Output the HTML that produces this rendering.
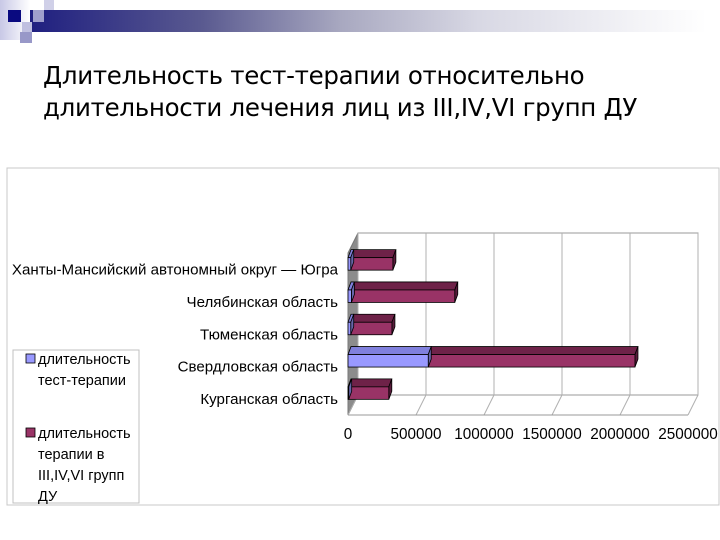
<!DOCTYPE html>
<html><head><meta charset="utf-8">
<style>
body{margin:0;width:720px;height:540px;background:#fff;overflow:hidden;position:relative;font-family:"Liberation Sans",sans-serif}
.sq{position:absolute}
#title{position:absolute;left:43px;top:60px;font-size:24.5px;line-height:32px;color:#000;font-family:"DejaVu Sans","Liberation Sans",sans-serif;letter-spacing:-0.3px;white-space:nowrap}
</style></head><body>
<div style="position:absolute;left:30px;top:10px;width:690px;height:22px;background:linear-gradient(to right,#1f1f80,#5a5a90 25%,#a8a8c0 45%,#d8d8e4 65%,#fff 98%)"></div>
<div class="sq" style="left:0;top:0;width:30px;height:40px;background:linear-gradient(to right,#c8c8e6,#fff)"></div>
<div class="sq" style="left:8px;top:10px;width:13px;height:12px;background:#0a0a80"></div>
<div class="sq" style="left:22px;top:22px;width:10px;height:10px;background:#c0c0e0"></div>
<div class="sq" style="left:20px;top:32px;width:12px;height:11px;background:#9898c8"></div>
<div class="sq" style="left:33px;top:10px;width:11px;height:12px;background:#a0a0cc"></div>
<div class="sq" style="left:44px;top:0;width:10px;height:10px;background:#d0d0e8"></div>
<div id="title">Длительность тест-терапии относительно<br>длительности лечения лиц из III,IV,VI групп ДУ</div>
<svg id="chart" width="720" height="540" style="position:absolute;left:0;top:0" font-family="Liberation Sans, sans-serif"></svg>
<script>
const categories=["Ханты-Мансийский автономный округ — Югра","Челябинская область","Тюменская область","Свердловская область","Курганская область"];
const testTherapy=[20000,25000,20000,590000,5000];
const treatment=[310000,760000,303000,1520000,295000];
const xTicks=[0,500000,1000000,1500000,2000000,2500000];
const xTickLabels=["0","500000","1000000","1500000","2000000","2500000"];
const svg=document.getElementById('chart');
const NS='http://www.w3.org/2000/svg';
function el(t,a,p){const e=document.createElementNS(NS,t);for(const k in a)e.setAttribute(k,a[k]);(p||svg).appendChild(e);return e;}
const x0=348,xMax=2500000,xW=340,DX=10,DY=-20;
const xs=v=>x0+v/xMax*xW;
const yFront0=415, catH=32.3;
const yc=i=>yFront0-catH*(categories.length-i-0.5);
let f=el('rect',{x:7,y:168,width:712,height:337,fill:'#fff',stroke:'#c8c8c8','stroke-width':1});

let w=el('polygon',{points:`${x0},${yFront0} ${x0+DX},${yFront0+DY} ${x0+DX},233 ${x0},253`,fill:'#8c8c8c',stroke:'#777'});

let bw=el('rect',{x:x0+DX,y:233,width:xW,height:yFront0+DY-233,fill:'#fff',stroke:'#999'});

xTicks.forEach((v,i)=>{
  const g=el('polyline',{points:`${xs(v)},${yFront0} ${xs(v)+DX},${yFront0+DY} ${xs(v)+DX},233`,fill:'none',stroke:'#b0b0b0'});
  
  const t=el('text',{x:xs(v),y:439,'font-size':15.3,'text-anchor':'middle',fill:'#000'});
  t.textContent=xTickLabels[i];
  
});
let fl=el('line',{x1:x0,y1:yFront0,x2:x0+xW,y2:yFront0,stroke:'#999'});

categories.forEach((c,i)=>{
  const y=yc(i);
  const t=el('text',{x:338,y:y+5,'font-size':15.1,'text-anchor':'end',fill:'#000'});
  t.textContent=c;
  
});
const bh=12.5,bdx=3,bdy=-8;
function box(xa,xb,y,front,top,side,name){
  const g=el('g',{});
  
  el('polygon',{points:`${xa},${y} ${xa+bdx},${y+bdy} ${xb+bdx},${y+bdy} ${xb},${y}`,fill:top,stroke:'#000','stroke-width':0.8},g);
  el('polygon',{points:`${xb},${y} ${xb+bdx},${y+bdy} ${xb+bdx},${y+bdy+bh} ${xb},${y+bh}`,fill:side,stroke:'#000','stroke-width':0.8},g);
  el('rect',{x:xa,y:y,width:Math.max(xb-xa,0.5),height:bh,fill:front,stroke:'#000','stroke-width':0.8},g);
}
categories.forEach((c,i)=>{
  const y=yc(i)-12;
  const a=testTherapy[i],b=treatment[i];
  box(xs(a),xs(a+b),y,'#993366','#6e2248','#5a1c3c','bar-treatment');
  box(xs(0),xs(a),y,'#9999ff','#8080dd','#6666aa','bar-test-therapy');
});
const lg=el('g',{});
el('rect',{x:13,y:350,width:126,height:153,fill:'#fff',stroke:'#c0c0c0'},lg);
const leg=[{c:'#9999ff',y:354,lines:['длительность','тест-терапии']},{c:'#993366',y:428,lines:['длительность','терапии в','III,IV,VI групп','ДУ']}];
leg.forEach(L=>{
  const g=el('g',{},lg);
  el('rect',{x:26,y:L.y,width:9,height:9,fill:L.c,stroke:'#000','stroke-width':0.8},g);
  L.lines.forEach((s,k)=>{const t=el('text',{x:38,y:L.y+10+k*21,'font-size':14.5,fill:'#000'},g);t.textContent=s;});
});
</script>
</body></html>
